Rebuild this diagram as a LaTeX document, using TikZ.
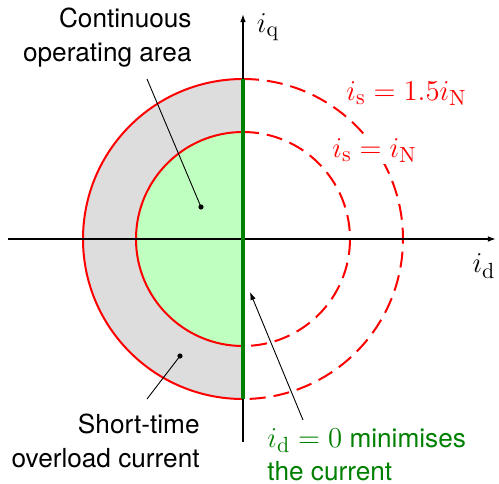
\documentclass[tikz,border=0pt]{standalone}
\usepackage[no-math]{fontspec}
\setmainfont{TeX Gyre Heros}
\usetikzlibrary{arrows.meta}
\definecolor{dkgreen}{rgb}{0,0.5,0}
\definecolor{areagray}{RGB}{221,221,221}
\definecolor{areagreen}{RGB}{191,255,191}
\newcommand{\mathsz}{\fontsize{15}{16.5}\selectfont}
\begin{document}
\begin{tikzpicture}[x=0.5pt,y=0.5pt,
  axis/.style={line width=0.7pt,-{Latex[length=4pt,width=2.8pt]}},
  ring/.style={red,line width=1pt},
  dashring/.style={ring,dash pattern=on 8pt off 4pt},
  pointer/.style={line width=0.45pt},
  dotmark/.style={circle,fill=black,inner sep=0pt,minimum size=2.6pt},
  lbl/.style={font=\fontsize{13.1}{16.6}\selectfont,inner sep=0pt},
  mlbl/.style={font=\mathsz,inner sep=0pt},
  rlbl/.style={mlbl,text=red,fill=white,inner sep=1pt}]
\useasboundingbox (-243,-244) rectangle (256,239);
% areas
\fill[areagray] (0,160) arc (90:270:160) -- cycle;
\fill[areagreen] (0,107) arc (90:270:107) -- cycle;
% circles
\draw[ring] (0,160) arc (90:270:160);
\draw[ring] (0,107) arc (90:270:107);
\draw[dashring] (0,160) arc (90:-90:160);
\draw[dashring] (0,107) arc (90:-90:107);
% axes
\coordinate (xs) at (-235,0);
\coordinate (xe) at (253,0);
\coordinate (ys) at (0,-203);
\coordinate (ye) at (0,225);
\draw[axis] (xs) -- (xe);
\draw[axis] (ys) -- (ye);
\node[mlbl] (id) at (241,-27) {$i_\mathrm{d}$};
\node[mlbl] (iq) at (25,212) {$i_\mathrm{q}$};
% green line
\coordinate (gt) at (0,160);
\coordinate (gb) at (0,-160);
\draw[dkgreen,line width=2pt] (gt) -- (gb);
% labels
\node[rlbl,anchor=base west] (lo) at (101,139) {$i_\mathrm{s}=1.5i_\mathrm{N}$};
\node[rlbl,anchor=base west] (li) at (87,82) {$i_\mathrm{s}=i_\mathrm{N}$};
\node[lbl,align=right,anchor=north east] (cont) at (-51,231) {Continuous\\operating area};
\node[lbl,align=right,anchor=north east] (short) at (-43,-175) {Short-time\\overload current};
\node[lbl,align=left,anchor=north west,text=dkgreen] (zero) at (24,-189) {{\mathsz$i_\mathrm{d}=0$} minimises\\the current};
% pointers
\node[dotmark] (d1) at (-42,32) {};
\coordinate (c1) at (-96,160);
\draw[pointer] (c1) -- (d1.center);
\node[dotmark] (d2) at (-63,-117) {};
\coordinate (c2) at (-96,-160);
\draw[pointer] (c2) -- (d2.center);
\coordinate (c3) at (60,-181);
\coordinate (t3) at (7,-53);
\draw[pointer,-{Latex[length=4pt,width=2.8pt]}] (c3) -- (t3);
\end{tikzpicture}
\end{document}
